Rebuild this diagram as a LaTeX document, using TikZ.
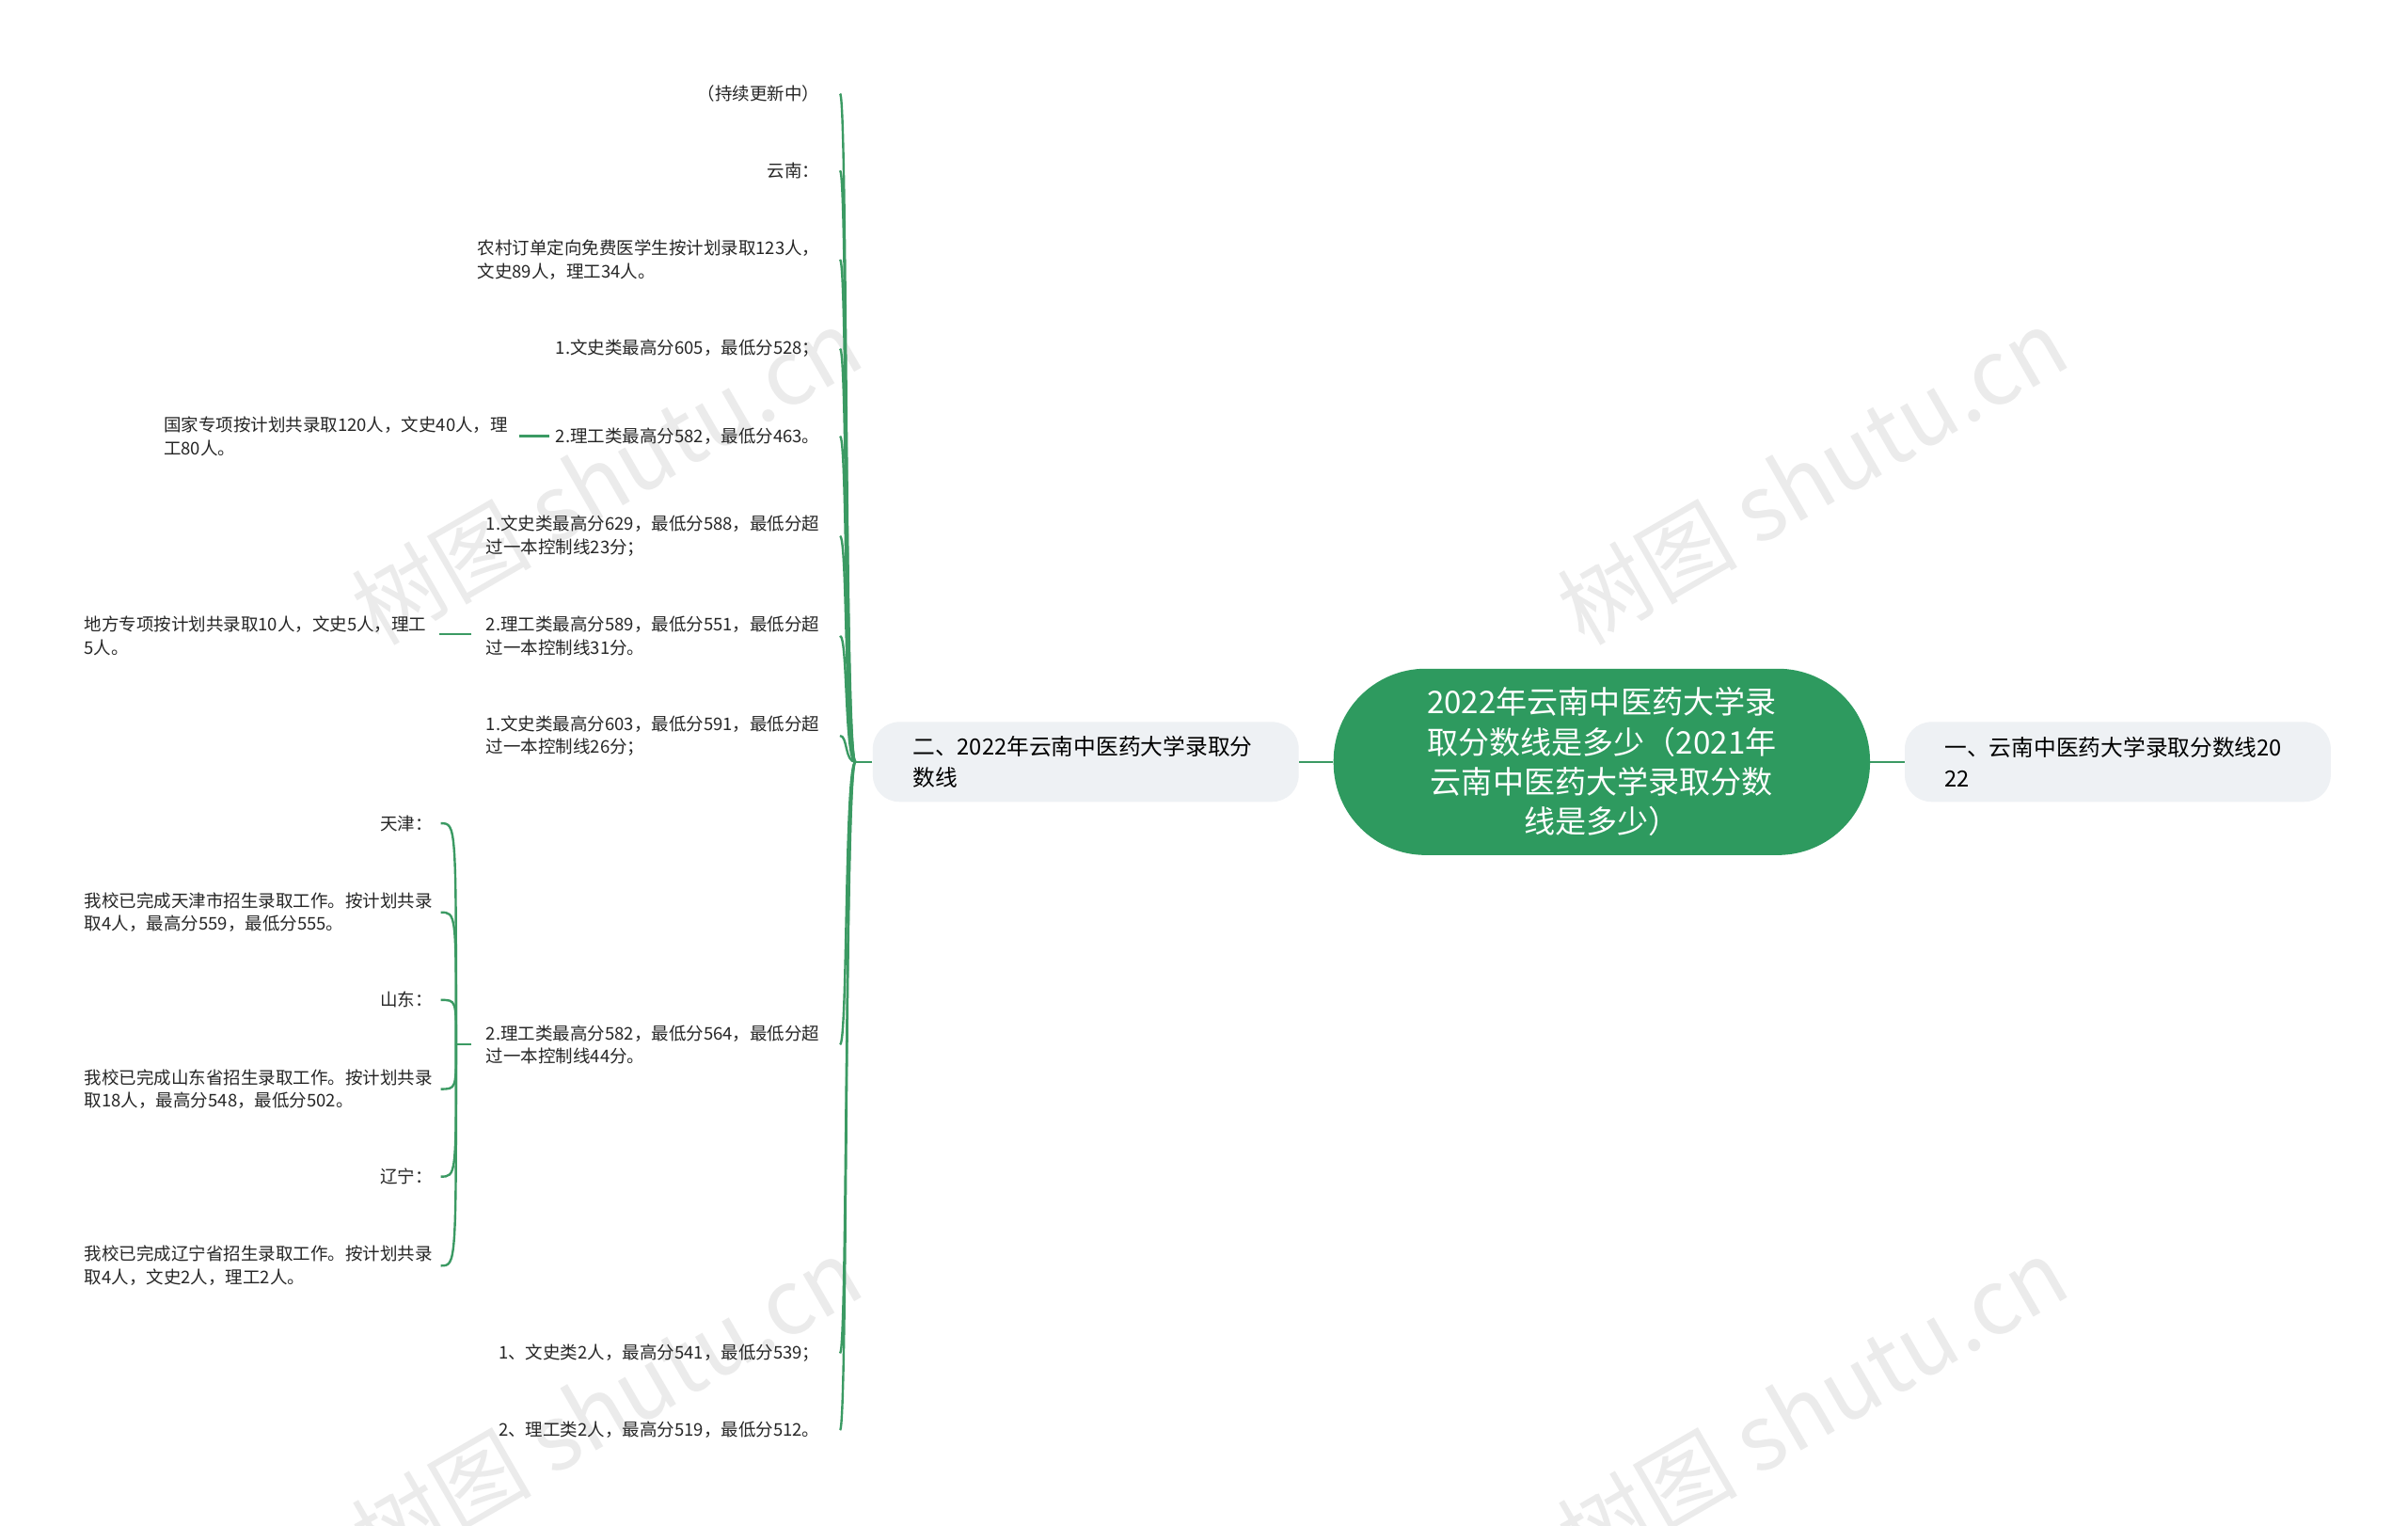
\documentclass[tikz,border=0pt]{standalone}
\usepackage{fontspec}
\setmainfont{Noto Sans CJK SC}
\newfontfamily\wmfont{Noto Sans CJK SC}
\begin{document}
\begin{tikzpicture}[x=0.75pt,y=-0.75pt,
  link/.style={draw=linkgreen,line width=1.1pt},
  leaf/.style={font=\fontsize{8.5}{11.25}\selectfont,text=black!85,align=left,inner sep=0pt,anchor=east},
  lvone/.style={fill=lvgray,rounded corners=13pt,font=\fontsize{10.9}{15}\selectfont,align=left,text width=169pt,inner xsep=19.5pt,inner ysep=0pt,minimum height=39pt},
  wmark/.style={font=\wmfont\fontsize{44}{44}\selectfont,text=black!8,rotate=30}]
\definecolor{linkgreen}{HTML}{3B9A63}
\definecolor{rootgreen}{HTML}{2E9A5F}
\definecolor{lvgray}{HTML}{EEF1F4}
\useasboundingbox (0,0) rectangle (1568,993);
\fill[white] (0,0) rectangle (1568,993);
\node[wmark] (w1) at (395,310) {树图 shutu.cn};
\node[wmark] (w2) at (1180,310) {树图 shutu.cn};
\node[wmark] (w3) at (395,915) {树图 shutu.cn};
\node[wmark] (w4) at (1180,915) {树图 shutu.cn};

\node[fill=rootgreen,rounded corners=45pt,minimum width=262pt,minimum height=91pt,text=white,align=center,font=\fontsize{15.2}{19.5}\selectfont,inner sep=0pt] (root) at (1043,496) {2022年云南中医药大学录\\取分数线是多少（2021年\\云南中医药大学录取分数\\线是多少）};
\node[lvone] (r1) at (1379,496) {一、云南中医药大学录取分数线20\\22};
\node[lvone] (l1) at (707,496) {二、2022年云南中医药大学录取分\\数线};
\draw[link] (root.east) -- (r1.west);
\draw[link] (root.west) -- (l1.east);
\coordinate (tr) at (557,496);
\draw[link] (l1.west) -- (tr);

\node[leaf] (c1) at (534,61) {（持续更新中）};
\node[leaf] (c2) at (534,111) {云南：};
\node[leaf] (c3) at (534,169) {农村订单定向免费医学生按计划录取123人，\\文史89人，理工34人。};
\node[leaf] (c4) at (534,227) {1.文史类最高分605，最低分528；};
\node[leaf] (c5) at (534,284) {2.理工类最高分582，最低分463。};
\node[leaf] (c6) at (534,349) {1.文史类最高分629，最低分588，最低分超\\过一本控制线23分；};
\node[leaf] (c7) at (534,414) {2.理工类最高分589，最低分551，最低分超\\过一本控制线31分。};
\node[leaf] (c8) at (534,479) {1.文史类最高分603，最低分591，最低分超\\过一本控制线26分；};
\node[leaf] (c9) at (534,680) {2.理工类最高分582，最低分564，最低分超\\过一本控制线44分。};
\node[leaf] (c10) at (534,881) {1、文史类2人，最高分541，最低分539；};
\node[leaf] (c11) at (534,931) {2、理工类2人，最高分519，最低分512。};
\foreach \n/\yy in {c1/61,c2/111,c3/169,c4/227,c5/284,c6/349,c7/414,c8/479,c9/680,c10/881,c11/931}{
  \coordinate (e\n) at (547,\yy);
  \draw[link] (tr) .. controls (550,496) and (552,\yy) .. (e\n);
}

\node[leaf] (g5) at (331,284) {国家专项按计划共录取120人，文史40人，理\\工80人。};
\draw[link] (358,284) coordinate (a5) -- (338,284) coordinate (b5);
\node[leaf] (g7) at (278,414) {地方专项按计划共录取10人，文史5人，理工\\5人。};
\draw[link] (307,413) coordinate (a7) -- (286,413) coordinate (b7);

\coordinate (t9) at (297,680);
\draw[link] (307,680) coordinate (s9) -- (t9);
\node[leaf] (d1) at (282,536) {天津：};
\node[leaf] (d2) at (282,594) {我校已完成天津市招生录取工作。按计划共录\\取4人，最高分559，最低分555。};
\node[leaf] (d3) at (282,651) {山东：};
\node[leaf] (d4) at (282,709) {我校已完成山东省招生录取工作。按计划共录\\取18人，最高分548，最低分502。};
\node[leaf] (d5) at (282,766) {辽宁：};
\node[leaf] (d6) at (282,824) {我校已完成辽宁省招生录取工作。按计划共录\\取4人，文史2人，理工2人。};
\foreach \n/\yy in {d1/536,d2/594,d3/651,d4/709,d5/766,d6/824}{
  \coordinate (e\n) at (287,\yy);
  \draw[link] (t9) .. controls (297,\yy) and (297,\yy) .. (e\n);
}
\end{tikzpicture}
\end{document}
